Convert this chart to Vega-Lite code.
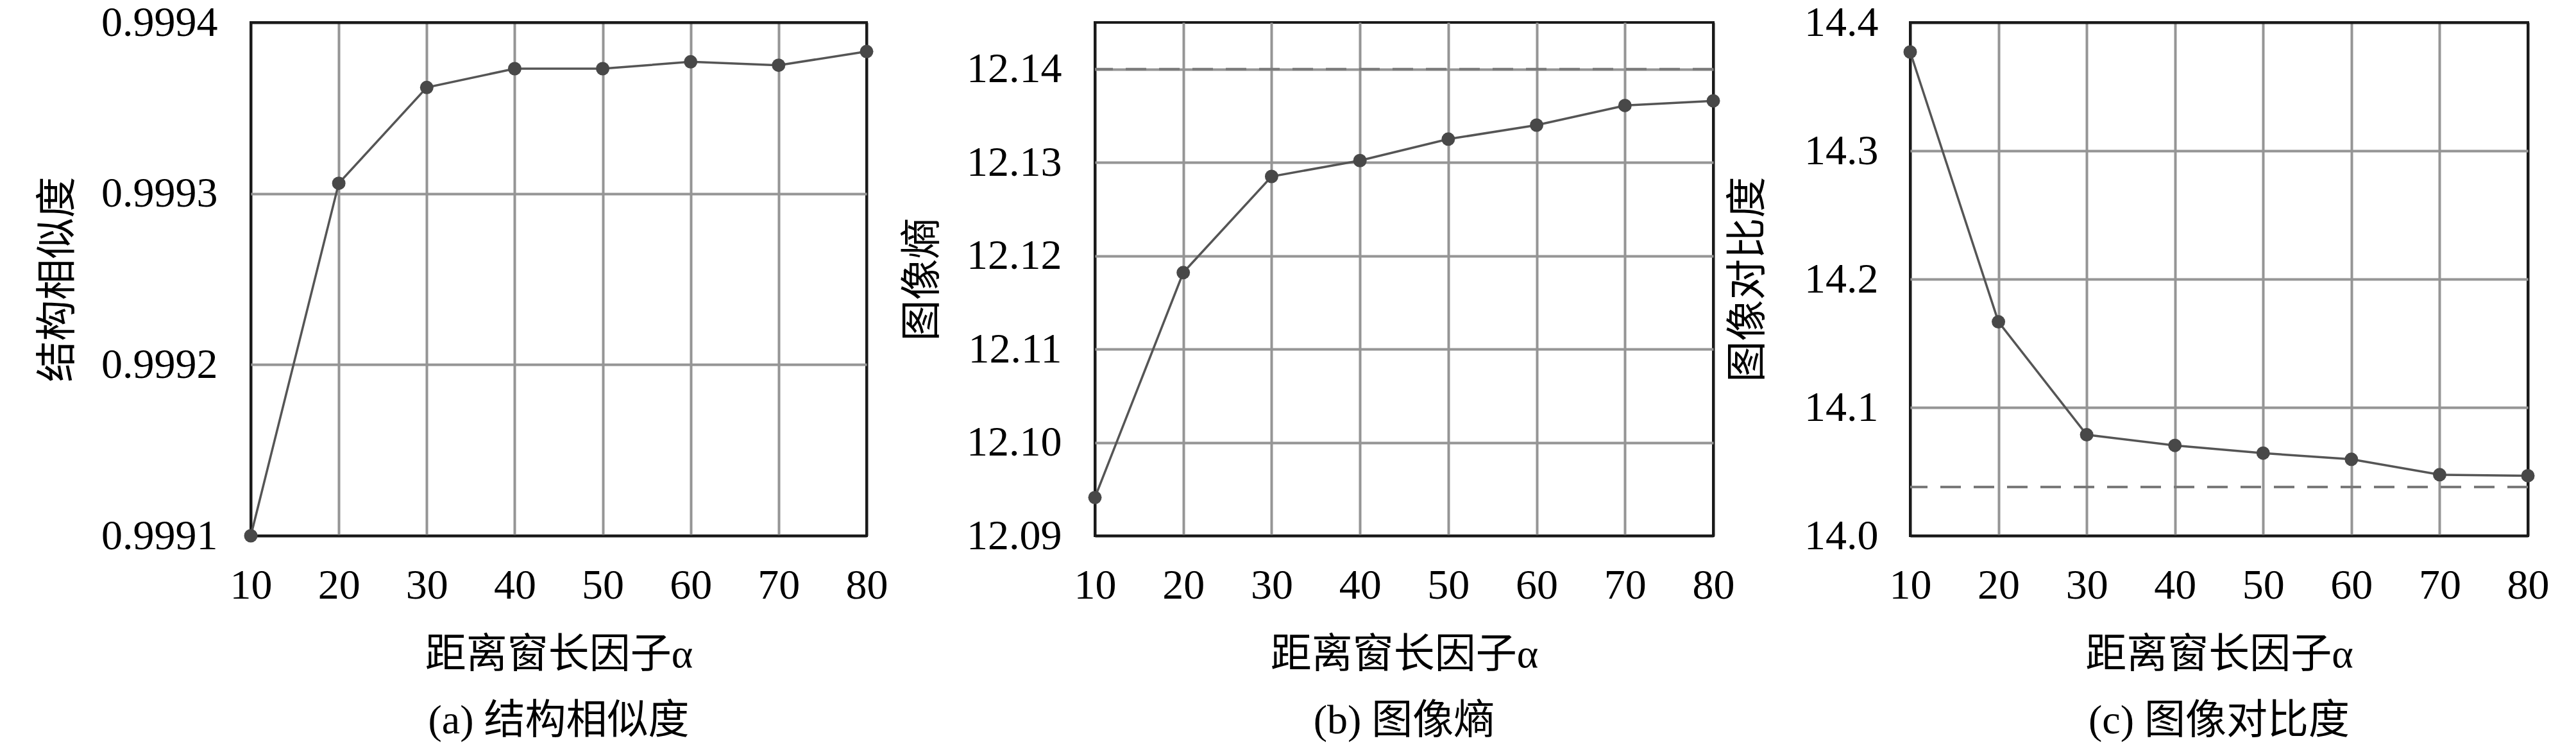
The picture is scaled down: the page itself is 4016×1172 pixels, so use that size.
{
  "$schema": "https://vega.github.io/schema/vega-lite/v6.json",
  "background": "white",
  "padding": {"left": 56, "top": 0, "right": 0, "bottom": 0},
  "datasets": {
    "ssim": [
      {"alpha": 10, "v": 0.99910},
      {"alpha": 20, "v": 0.999306},
      {"alpha": 30, "v": 0.999362},
      {"alpha": 40, "v": 0.999373},
      {"alpha": 50, "v": 0.999373},
      {"alpha": 60, "v": 0.999377},
      {"alpha": 70, "v": 0.999375},
      {"alpha": 80, "v": 0.999383}
    ],
    "entropy": [
      {"alpha": 10, "v": 12.0941},
      {"alpha": 20, "v": 12.1182},
      {"alpha": 30, "v": 12.1285},
      {"alpha": 40, "v": 12.1302},
      {"alpha": 50, "v": 12.1325},
      {"alpha": 60, "v": 12.1340},
      {"alpha": 70, "v": 12.1361},
      {"alpha": 80, "v": 12.1366}
    ],
    "contrast": [
      {"alpha": 10, "v": 14.377},
      {"alpha": 20, "v": 14.1667},
      {"alpha": 30, "v": 14.0787},
      {"alpha": 40, "v": 14.0704},
      {"alpha": 50, "v": 14.0644},
      {"alpha": 60, "v": 14.0596},
      {"alpha": 70, "v": 14.0476},
      {"alpha": 80, "v": 14.0468}
    ],
    "refEntropy": [{"ref": 12.14}],
    "refContrast": [{"ref": 14.038}]
  },
  "config": {
    "font": "Liberation Serif, Noto Sans CJK SC",
    "view": {"stroke": "#1a1a1a", "strokeWidth": 4},
    "axis": {
      "labelFont": "Liberation Serif",
      "labelFontSize": 66,
      "labelLimit": 0,
      "labelColor": "#000000",
      "titleFont": "Liberation Serif, Noto Sans CJK SC",
      "titleFontSize": 64,
      "titleFontWeight": "normal",
      "titleColor": "#000000",
      "titleLimit": 0,
      "grid": true,
      "gridWidth": 4,
      "domain": false,
      "ticks": false,
      "tickSize": 0,
      "labelOverlap": false,
      "labelFlush": false
    },
    "axisX": {
      "labelPadding": 45,
      "titlePadding": 43,
      "gridColor": {"condition": {"test": "datum.value <= 10 || datum.value >= 80", "value": "#1a1a1a"}, "value": "#959595"}
    },
    "axisY": {"labelPadding": 52, "titlePadding": 69},
    "title": {
      "font": "Liberation Serif, Noto Sans CJK SC",
      "fontSize": 64,
      "fontWeight": "normal",
      "color": "#000000",
      "orient": "bottom",
      "anchor": "middle",
      "offset": 40,
      "limit": 0
    }
  },
  "spacing": -15,
  "hconcat": [
    {
      "spacing": 18,
      "hconcat": [
        {
          "width": 960,
          "height": 800,
          "title": "(a) 结构相似度",
          "layer": [
            {
              "data": {"name": "ssim"},
              "mark": {"type": "line", "color": "#555555", "strokeWidth": 3.5},
              "encoding": {
                "x": {"field": "alpha", "type": "quantitative", "scale": {"domain": [10, 80], "nice": false, "zero": false}, "axis": {"values": [10, 20, 30, 40, 50, 60, 70, 80], "title": "距离窗长因子α", "format": "d"}},
                "y": {"field": "v", "type": "quantitative", "scale": {"domain": [0.9991, 0.9994], "nice": false, "zero": false}, "axis": {"values": [0.9991, 0.9992, 0.9993, 0.9994], "format": ".4f", "title": "结构相似度", "gridColor": {"condition": {"test": "datum.value <= 0.99910001 || datum.value >= 0.99939999", "value": "#1a1a1a"}, "value": "#959595"}}}
              }
            },
            {
              "data": {"name": "ssim"},
              "mark": {"type": "point", "filled": true, "color": "#484848", "size": 440, "opacity": 1},
              "encoding": {
                "x": {"field": "alpha", "type": "quantitative"},
                "y": {"field": "v", "type": "quantitative"}
              }
            }
          ]
        },
        {
          "width": 964,
          "height": 800,
          "title": "(b) 图像熵",
          "layer": [
            {
              "data": {"name": "refEntropy"},
              "mark": {"type": "rule", "color": "#7a7a7a", "strokeWidth": 4, "strokeDash": [32, 20]},
              "encoding": {"y": {"field": "ref", "type": "quantitative"}}
            },
            {
              "data": {"name": "entropy"},
              "mark": {"type": "line", "color": "#555555", "strokeWidth": 3.5},
              "encoding": {
                "x": {"field": "alpha", "type": "quantitative", "scale": {"domain": [10, 80], "nice": false, "zero": false}, "axis": {"values": [10, 20, 30, 40, 50, 60, 70, 80], "title": "距离窗长因子α", "format": "d"}},
                "y": {"field": "v", "type": "quantitative", "scale": {"domain": [12.09, 12.145], "nice": false, "zero": false}, "axis": {"values": [12.09, 12.10, 12.11, 12.12, 12.13, 12.14], "format": ".2f", "title": "图像熵", "titlePadding": 37, "gridColor": {"condition": {"test": "datum.value <= 12.0900001", "value": "#1a1a1a"}, "value": "#959595"}}}
              }
            },
            {
              "data": {"name": "entropy"},
              "mark": {"type": "point", "filled": true, "color": "#484848", "size": 440, "opacity": 1},
              "encoding": {
                "x": {"field": "alpha", "type": "quantitative"},
                "y": {"field": "v", "type": "quantitative"}
              }
            }
          ]
        }
      ]
    },
    {
      "width": 963,
      "height": 800,
      "title": "(c) 图像对比度",
      "layer": [
        {
          "data": {"name": "refContrast"},
          "mark": {"type": "rule", "color": "#7a7a7a", "strokeWidth": 4, "strokeDash": [32, 20]},
          "encoding": {"y": {"field": "ref", "type": "quantitative"}}
        },
        {
          "data": {"name": "contrast"},
          "mark": {"type": "line", "color": "#555555", "strokeWidth": 3.5},
          "encoding": {
            "x": {"field": "alpha", "type": "quantitative", "scale": {"domain": [10, 80], "nice": false, "zero": false}, "axis": {"values": [10, 20, 30, 40, 50, 60, 70, 80], "title": "距离窗长因子α", "format": "d"}},
            "y": {"field": "v", "type": "quantitative", "scale": {"domain": [14.0, 14.4], "nice": false, "zero": false}, "axis": {"values": [14.0, 14.1, 14.2, 14.3, 14.4], "format": ".1f", "title": "图像对比度", "labelPadding": 50, "titlePadding": 55, "gridColor": {"condition": {"test": "datum.value <= 14.0000001 || datum.value >= 14.3999999", "value": "#1a1a1a"}, "value": "#959595"}}}
          }
        },
        {
          "data": {"name": "contrast"},
          "mark": {"type": "point", "filled": true, "color": "#484848", "size": 440, "opacity": 1},
          "encoding": {
            "x": {"field": "alpha", "type": "quantitative"},
            "y": {"field": "v", "type": "quantitative"}
          }
        }
      ]
    }
  ]
}
